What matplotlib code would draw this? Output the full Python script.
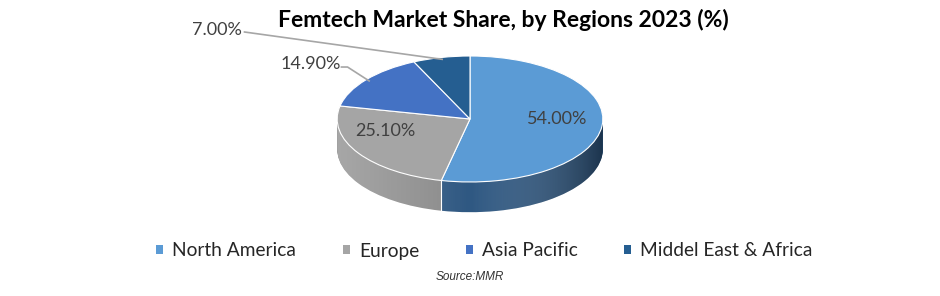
import numpy as np
import matplotlib.pyplot as plt
from matplotlib.colors import LinearSegmentedColormap
from matplotlib.patches import Polygon

# data
regions = ['North America', 'Europe', 'Asia Pacific', 'Middel East & Africa']
shares = [54.00, 25.10, 14.90, 7.00]
labels = ['{:.2f}%'.format(v) for v in shares]

top_colors = ['#5B9BD5', '#A5A5A5', '#4472C4', '#255E91']
wall_colors = ['#2f5882', '#8a8a8a', '#2f4f8c', '#1a4266']

W, H = 940, 296
fig = plt.figure(figsize=(W / 100, H / 100), dpi=100)
ax = fig.add_axes([300 / W, (H - 225) / H, 340 / W, 185 / H])

depth = 0.48
# side walls: stack of darker pies shifted down
for k in np.linspace(depth, 0.01, 40):
    ax.pie(shares, colors=wall_colors, startangle=90, counterclock=False,
           center=(0, -k), wedgeprops=dict(linewidth=0, zorder=1))

# horizontal shading on the front wall
t = np.linspace(np.pi, 2 * np.pi, 200)
edge_top = np.c_[np.cos(t), np.sin(t)]
edge_bot = np.c_[np.cos(t[::-1]), np.sin(t[::-1]) - depth]
wall = Polygon(np.vstack([edge_top, edge_bot]), closed=True,
               transform=ax.transData, facecolor='none', edgecolor='none')
ax.add_patch(wall)
shade = LinearSegmentedColormap.from_list(
    'shade', [(1, 1, 1, 0.25), (1, 1, 1, 0.0), (0, 0, 0, 0.4)])
im = ax.imshow(np.linspace(0, 1, 256).reshape(1, -1), cmap=shade,
               extent=(-1, 1, -1 - depth, 0), aspect='auto',
               interpolation='bilinear', zorder=1.5)
im.set_clip_path(wall)

# top face
wedges, _ = ax.pie(shares, colors=top_colors, startangle=90, counterclock=False,
                   wedgeprops=dict(edgecolor='white', linewidth=0.8, zorder=2))

# seam between Europe and North America on the wall
seam = np.deg2rad(90 - 360 * shares[0] / sum(shares))
ax.plot([np.cos(seam)] * 2, [np.sin(seam), np.sin(seam) - depth],
        color='white', lw=0.8, zorder=2)

ax.set_aspect('auto')
ax.set_xlim(-1.28, 1.28)
ax.set_ylim(-1.683, 1.254)
ax.axis('off')

lab_font = dict(family='Lato', fontsize=13, color='#404040')
ax.text(0.66, 0.0, labels[0], ha='center', va='center', zorder=3, **lab_font)
ax.text(-0.64, -0.19, labels[1], ha='center', va='center', zorder=3, **lab_font)

# outside labels with leader lines
def mid_point(i):
    tot = sum(shares)
    a0 = 90 - 360 * sum(shares[:i]) / tot
    a1 = a0 - 360 * shares[i] / tot
    a = np.deg2rad((a0 + a1) / 2)
    return np.cos(a) * 0.97, np.sin(a) * 0.97

mx, my = mid_point(2)
ax.plot([-0.968, -0.922, mx], [0.825, 0.825, my], color='#a6a6a6', lw=1.2,
        clip_on=False, zorder=3)
ax.text(-0.975, 0.87, labels[2], ha='right', va='center', **lab_font)

mx, my = mid_point(3)
ax.plot([-1.698, mx], [1.381, my], color='#a6a6a6', lw=1.2,
        clip_on=False, zorder=3)
ax.text(-1.72, 1.41, labels[3], ha='right', va='center', **lab_font)

fig.text(503.5 / W, 1 - 20 / H, 'Femtech Market Share, by Regions 2023 (%)',
         ha='center', va='center', family='Lato', fontweight='bold',
         fontsize=16.5, color='black')

leg_handles = [plt.Rectangle((0, 0), 1, 1, facecolor=c, edgecolor='none')
               for c in top_colors]
fig.legend(leg_handles, regions, ncol=4, loc='center',
           bbox_to_anchor=(484.5 / W, 1 - 251 / H), frameon=False,
           prop=dict(family='Lato', size=13.8), labelcolor='#262626',
           handlelength=0.38, handleheight=0.38, handletextpad=0.47,
           columnspacing=2.42)

fig.text(470 / W, 1 - 277 / H, 'Source:MMR', ha='center', va='center',
         family='Liberation Sans', style='italic', fontsize=8.5, color='#333333')

fig.savefig('out.png', dpi=100)
